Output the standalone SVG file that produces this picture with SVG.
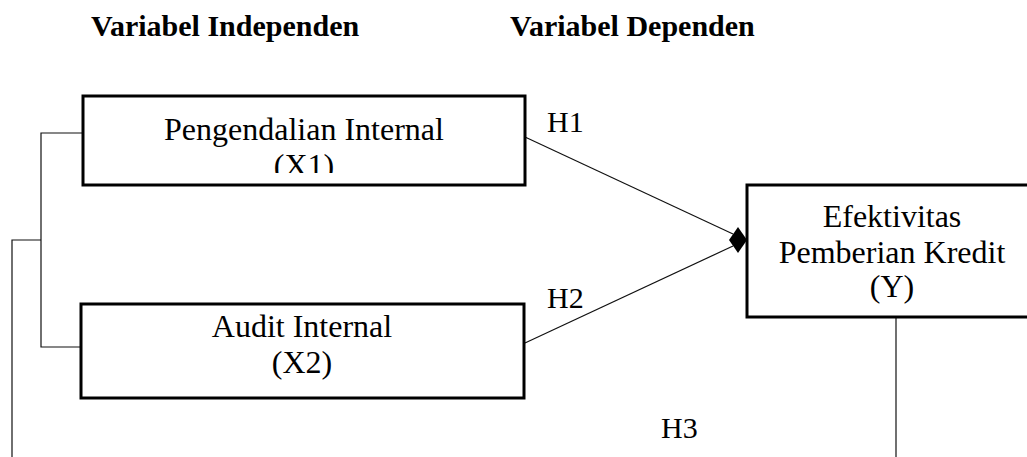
<svg xmlns="http://www.w3.org/2000/svg" width="1027" height="457" viewBox="0 0 1027 457">
  <style>
    .box { fill: #fff; stroke: #000; stroke-width: 3; }
    .lbl { font-family: "Liberation Serif", "Times New Roman", serif; font-size: 32px; fill: #000; text-anchor: middle; }
    .h { font-family: "Liberation Serif", "Times New Roman", serif; font-size: 30px; fill: #000; }
    .title { font-family: "Liberation Serif", "Times New Roman", serif; font-size: 30px; font-weight: bold; fill: #000; }
    .conn { fill: none; stroke: #111; stroke-width: 1.2; }
  </style>
  <defs>
    <clipPath id="clipX1">
      <rect x="85" y="98" width="438" height="75"/>
    </clipPath>
  </defs>
  <rect width="1027" height="457" fill="#fff"/>

  <g id="titles">
    <text class="title" x="91" y="36">Variabel Independen</text>
    <text class="title" x="510" y="36">Variabel Dependen</text>
  </g>

  <g id="connectors">
    <polyline class="conn" points="83,133 41,133 41,347 81,347"/>
    <polyline class="conn" points="41,240 12,240 12,457"/>
    <line class="conn" x1="525" y1="137" x2="733" y2="234"/>
    <line class="conn" x1="525" y1="343" x2="733" y2="246"/>
    <polygon points="729,240 738,227 747,240 738,253" fill="#000"/>
    <line class="conn" x1="896" y1="317" x2="896" y2="457"/>
    <text class="h" x="547" y="132">H1</text>
    <text class="h" x="547" y="308">H2</text>
    <text class="h" x="661" y="438">H3</text>
  </g>

  <g id="nodeX1">
    <rect class="box" x="83" y="96" width="442" height="89"/>
    <g clip-path="url(#clipX1)">
      <text class="lbl" x="304" y="140">Pengendalian Internal</text>
      <text class="lbl" x="304" y="176">(X1)</text>
    </g>
  </g>

  <g id="nodeX2">
    <rect class="box" x="81" y="304" width="443" height="94"/>
    <text class="lbl" x="302" y="337">Audit Internal</text>
    <text class="lbl" x="302" y="373">(X2)</text>
  </g>

  <g id="nodeY">
    <rect class="box" x="747" y="185" width="290" height="132"/>
    <text class="lbl" x="892" y="227">Efektivitas</text>
    <text class="lbl" x="892" y="263">Pemberian Kredit</text>
    <text class="lbl" x="892" y="297">(Y)</text>
  </g>
</svg>
